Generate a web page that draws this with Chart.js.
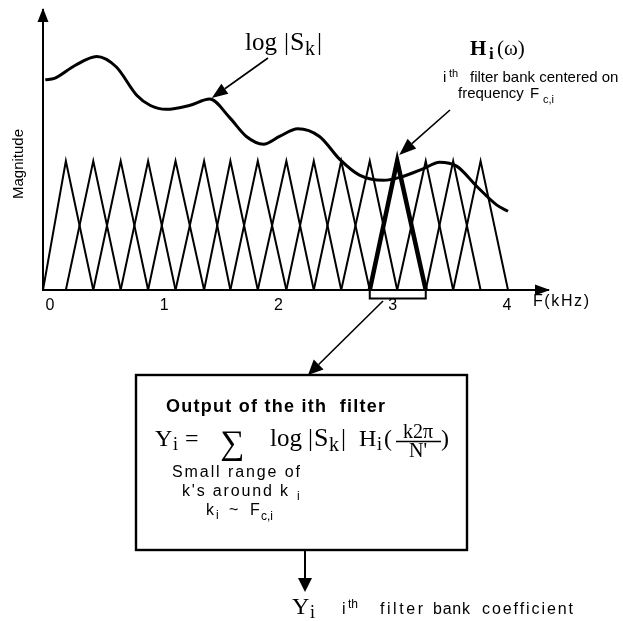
<!DOCTYPE html>
<html>
<head>
<meta charset="utf-8">
<script src="https://cdn.jsdelivr.net/npm/chart.js@4.4.1/dist/chart.umd.min.js"></script>
<style>
  html, body { margin: 0; padding: 0; background: #fff; }
</style>
</head>
<body>
<canvas id="filterChart" width="623" height="621"></canvas>
<script>
// ====== Data (x in kHz, y = relative magnitude, filter peak = 1) ======
const xTicks = [0, 1, 2, 3, 4];

// log |S_k| spectrum envelope
const spectrumKHz = [-0.04, 0.04, 0.22, 0.41, 0.58, 0.76, 0.88, 1.02, 1.22, 1.40, 1.57, 1.72, 1.87,
                     2.01, 2.17, 2.36, 2.54, 2.71, 2.92, 3.09, 3.27, 3.41, 3.56, 3.74, 3.91, 4.01];
const spectrumMag = [1.63, 1.64, 1.74, 1.81, 1.73, 1.51, 1.43, 1.40, 1.43, 1.48, 1.34, 1.19, 1.13,
                     1.19, 1.25, 1.19, 1.01, 0.89, 0.85, 0.88, 0.94, 0.99, 0.96, 0.80, 0.66, 0.61];

// triangular filter bank: centre frequencies + outer feet of first / last filter
const filterCenters = [0.14, 0.38, 0.62, 0.86, 1.10, 1.35, 1.58, 1.82, 2.07, 2.31, 2.55, 2.80,
                       3.04, 3.29, 3.53, 3.77];
const filterEdges = [-0.06, 4.01];
const filterPeak = 1;
const selectedFilter = 12;          // the i-th filter, drawn bold
const curveArrowPoint = 9;          // spectrum point the log|S_k| arrow hits

// ====== Build datasets ======
const filterSets = filterCenters.map((c, i) => {
    const left = i === 0 ? filterEdges[0] : filterCenters[i - 1];
    const right = i === filterCenters.length - 1 ? filterEdges[1] : filterCenters[i + 1];
    return {
        data: [{ x: left, y: 0 }, { x: c, y: filterPeak }, { x: right, y: 0 }],
        borderColor: '#000',
        borderWidth: i === selectedFilter ? 4.5 : 2,
        borderJoinStyle: 'miter',
        pointRadius: 0,
        tension: 0
    };
});

const selLeft = filterCenters[selectedFilter - 1];
const selRight = filterCenters[selectedFilter + 1];
const bracketSet = {
    data: [{ x: selLeft, y: 0 }, { x: selLeft, y: -0.065 }, { x: selRight, y: -0.065 }, { x: selRight, y: 0 }],
    borderColor: '#000',
    borderWidth: 2,
    pointRadius: 0,
    clip: false
};

const spectrumSet = {
    data: spectrumKHz.map((x, i) => ({ x, y: spectrumMag[i] })),
    borderColor: '#000',
    borderWidth: 3,
    pointRadius: 0,
    cubicInterpolationMode: 'monotone',
    clip: false
};

// ====== Drawing helpers for the annotations ======
const SANS = '"Liberation Sans", Arial, sans-serif';
const SERIF = '"Liberation Serif", "Times New Roman", serif';

// draw text stretched (letter spacing) to a measured width
function fitText(ctx, str, x, y, w, font) {
    ctx.font = font;
    ctx.letterSpacing = '0px';
    const m = ctx.measureText(str).width;
    const n = [...str].length;
    const ls = (w - m) / Math.max(n - 1, 1);
    ctx.letterSpacing = ls.toFixed(2) + 'px';
    ctx.fillText(str, x, y);
    ctx.letterSpacing = '0px';
}

function text(ctx, str, x, y, font) {
    ctx.font = font;
    ctx.fillText(str, x, y);
    return x + ctx.measureText(str).width;
}

function arrow(ctx, x1, y1, x2, y2, head, half, lw) {
    const a = Math.atan2(y2 - y1, x2 - x1);
    const bx = x2 - head * Math.cos(a), by = y2 - head * Math.sin(a);
    ctx.lineWidth = lw;
    ctx.beginPath();
    ctx.moveTo(x1, y1);
    ctx.lineTo(bx, by);
    ctx.stroke();
    ctx.beginPath();
    ctx.moveTo(x2, y2);
    ctx.lineTo(bx + half * Math.sin(a), by - half * Math.cos(a));
    ctx.lineTo(bx - half * Math.sin(a), by + half * Math.cos(a));
    ctx.closePath();
    ctx.fill();
}

const annotations = {
    id: 'annotations',
    afterDraw(chart) {
        const { ctx, chartArea: ca, scales } = chart;
        const xs = scales.x, ys = scales.y;
        let e;
        ctx.save();
        ctx.fillStyle = '#000';
        ctx.strokeStyle = '#000';
        ctx.textBaseline = 'alphabetic';

        // axis arrow heads
        arrow(ctx, ca.left, ca.top + 20, ca.left, ca.top - 2, 14, 5.5, 2);
        arrow(ctx, ca.right - 20, ca.bottom, ca.right + 2, ca.bottom, 15, 5.5, 2);

        // y-axis title
        ctx.save();
        ctx.translate(23, 164);
        ctx.rotate(-Math.PI / 2);
        ctx.textAlign = 'center';
        ctx.font = '15px ' + SANS;
        ctx.fillText('Magnitude', 0, 0);
        ctx.restore();

        // x-axis unit
        fitText(ctx, 'F(kHz)', 533, 306, 56, '16px ' + SANS);

        // log |S_k| label + arrow to the curve
        text(ctx, 'log', 245, 50, '25px ' + SERIF);
        text(ctx, '|', 284, 50, '25px ' + SERIF);
        e = text(ctx, 'S', 290, 50, '26px ' + SERIF);
        e = text(ctx, 'k', e + 0.5, 55, '20px ' + SERIF);
        text(ctx, '|', e + 2, 50, '25px ' + SERIF);
        const cx = xs.getPixelForValue(spectrumKHz[curveArrowPoint]);
        const cy = ys.getPixelForValue(spectrumMag[curveArrowPoint]);
        arrow(ctx, 268, 58, cx + 2, cy - 1, 16, 6, 1.6);

        // H_i(w) label
        text(ctx, 'H', 470, 55, 'bold 21px ' + SERIF);
        text(ctx, 'i', 489, 59, 'bold 17px ' + SERIF);
        text(ctx, '(\u03c9)', 497, 55, '21px ' + SERIF);
        text(ctx, 'i', 443, 82, '15px ' + SANS);
        text(ctx, 'th', 449, 77, '11px ' + SANS);
        text(ctx, 'filter bank centered on', 470, 82, '15px ' + SANS);
        text(ctx, 'frequency', 458, 98, '15px ' + SANS);
        text(ctx, 'F', 530, 98, '15px ' + SANS);
        text(ctx, 'c,i', 543, 103, '11px ' + SANS);
        const px = xs.getPixelForValue(filterCenters[selectedFilter]);
        const py = ys.getPixelForValue(filterPeak);
        arrow(ctx, 450, 110, px + 2, py - 6, 17, 6.5, 1.6);

        // arrow from bracket down to the box
        arrow(ctx, 383, 301, 308, 375, 15, 7, 1.6);

        // output box
        ctx.lineWidth = 2.4;
        ctx.strokeRect(136, 375, 331, 175);
        fitText(ctx, 'Output of the ith  filter', 166, 412, 219, 'bold 18px ' + SANS);

        // Y_i = sum log|S_k| H_i(k2pi/N')
        text(ctx, 'Y', 155, 446, '24px ' + SERIF);
        text(ctx, 'i', 173, 450, '18px ' + SERIF);
        text(ctx, '=', 185, 446, '24px ' + SERIF);
        text(ctx, '\u2211', 220, 454, '34px ' + SERIF);
        text(ctx, 'log', 270, 446, '25px ' + SERIF);
        text(ctx, '|', 308, 446, '25px ' + SERIF);
        e = text(ctx, 'S', 314, 446, '26px ' + SERIF);
        e = text(ctx, 'k', e + 0.5, 451, '20px ' + SERIF);
        text(ctx, '|', e + 2, 446, '25px ' + SERIF);
        text(ctx, 'H', 359, 446, '24px ' + SERIF);
        text(ctx, 'i', 377, 450, '18px ' + SERIF);
        text(ctx, '(', 384, 446, '24px ' + SERIF);
        ctx.textAlign = 'center';
        text(ctx, 'k2\u03c0', 418, 438, '20px ' + SERIF);
        text(ctx, "N'", 418, 457, '20px ' + SERIF);
        ctx.textAlign = 'left';
        ctx.lineWidth = 1.3;
        ctx.beginPath();
        ctx.moveTo(396, 441.5);
        ctx.lineTo(441, 441.5);
        ctx.stroke();
        text(ctx, ')', 441, 446, '24px ' + SERIF);

        fitText(ctx, 'Small range of', 172, 477, 128, '16px ' + SANS);
        fitText(ctx, "k's around k", 182, 496, 106, '16px ' + SANS);
        text(ctx, 'i', 297, 500, '12px ' + SANS);
        text(ctx, 'k', 206, 515, '16px ' + SANS);
        text(ctx, 'i', 216, 519, '12px ' + SANS);
        text(ctx, '~', 229, 515, '16px ' + SANS);
        text(ctx, 'F', 250, 515, '16px ' + SANS);
        text(ctx, 'c,i', 261, 520, '12px ' + SANS);

        // output arrow and coefficient label
        arrow(ctx, 305, 550, 305, 592, 14, 7, 2);
        text(ctx, 'Y', 292, 614, '24px ' + SERIF);
        text(ctx, 'i', 310, 618, '18px ' + SERIF);
        text(ctx, 'i', 342, 614, '16px ' + SANS);
        text(ctx, 'th', 348, 608, '12px ' + SANS);
        fitText(ctx, 'filter', 380, 614, 43, '16px ' + SANS);
        fitText(ctx, 'bank', 433, 614, 37, '16px ' + SANS);
        fitText(ctx, 'coefficient', 482, 614, 91, '16px ' + SANS);
        ctx.restore();
    }
};

Chart.defaults.font.family = SANS;

new Chart(document.getElementById('filterChart').getContext('2d'), {
    type: 'line',
    data: { datasets: [spectrumSet, ...filterSets, bracketSet] },
    options: {
        responsive: false,
        animation: false,
        events: [],
        layout: { padding: { left: 43, top: 10, right: 75, bottom: 301 } },
        plugins: { legend: { display: false }, tooltip: { enabled: false } },
        scales: {
            x: {
                type: 'linear',
                min: -0.06,
                max: 4.36,
                grid: { display: false },
                border: { display: true, color: '#000', width: 2 },
                ticks: { color: '#000', font: { size: 16 }, padding: -2, autoSkip: false, maxRotation: 0 },
                afterBuildTicks: axis => { axis.ticks = xTicks.map(v => ({ value: v })); },
                afterFit: axis => { axis.height = 30; }
            },
            y: {
                min: 0,
                max: 2.17,
                grid: { display: false },
                border: { display: true, color: '#000', width: 2 },
                ticks: { display: false },
                afterFit: axis => { axis.width = 0; }
            }
        }
    },
    plugins: [annotations]
});
</script>
</body>
</html>
